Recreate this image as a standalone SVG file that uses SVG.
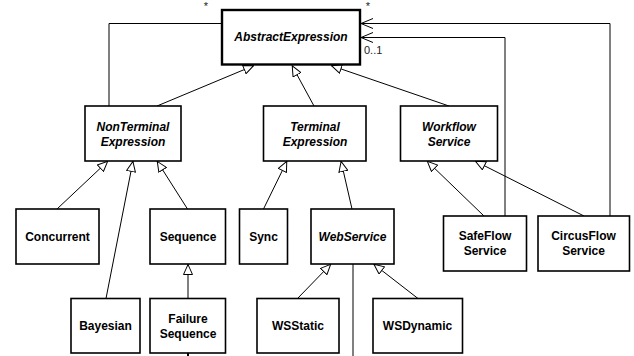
<svg xmlns="http://www.w3.org/2000/svg" width="634" height="356" viewBox="0 0 634 356">
<style>
.box{fill:#fff;stroke:#000;stroke-width:1.6}
.abs{fill:#fff;stroke:#000;stroke-width:2.4}
.t{font-family:"Liberation Sans",Arial,sans-serif;font-size:12px;font-weight:bold;text-anchor:middle;fill:#000}
.i{font-style:italic}
.c{fill:none;stroke:#000;stroke-width:1}
.gen{marker-end:url(#tri)}
.nav{marker-end:url(#open)}
.lbl{font-family:"Liberation Sans",Arial,sans-serif;font-size:11px;fill:#222}
</style>
<defs>
<marker id="tri" viewBox="0 0 11 10" refX="11" refY="5" markerWidth="11" markerHeight="10" markerUnits="userSpaceOnUse" orient="auto">
<path d="M0.5,0.5 L10.5,5 L0.5,9.5 Z" fill="#fff" stroke="#000" stroke-width="1"/>
</marker>
<marker id="open" viewBox="0 0 13 11" refX="12.5" refY="5.5" markerWidth="13" markerHeight="11" markerUnits="userSpaceOnUse" orient="auto">
<path d="M0.5,0.5 L12.5,5.5 L0.5,10.5" fill="none" stroke="#000" stroke-width="1"/>
</marker>
</defs>
<g id="connectors">
<path class="c" d="M109,106 V23.5 H222"/>
<path class="c nav" d="M505,216 V37.5 H361"/>
<path class="c nav" d="M610,216 V23.5 H361"/>
<path class="c gen" d="M157,106 L254,65.5"/>
<path class="c gen" d="M314,106 L292,65.5"/>
<path class="c gen" d="M449,106 L331,65.5"/>
<path class="c gen" d="M57,209 L108,161"/>
<path class="c gen" d="M106,298.5 L133,161"/>
<path class="c gen" d="M187.5,209 L157,161"/>
<path class="c gen" d="M188,298.5 L188,264"/>
<path class="c gen" d="M263.5,209 L287,161"/>
<path class="c gen" d="M352,209 L341,161"/>
<path class="c gen" d="M297.5,298.5 L331,264"/>
<path class="c gen" d="M418,298.5 L373.5,264"/>
<path class="c gen" d="M484,216 L427,161"/>
<path class="c gen" d="M584,216 L475,161"/>
<path class="c" d="M353,264 V356"/>
<path d="M188,353 V356" stroke="#000" stroke-width="2" fill="none"/>
<text class="lbl" x="206" y="10" text-anchor="middle">*</text>
<text class="lbl" x="368" y="10" text-anchor="middle">*</text>
<text class="lbl" x="364" y="54">0..1</text>
</g>
<g id="AbstractExpression"><rect class="abs" x="222" y="10" width="138" height="54.5"/><text class="t i" x="291" y="41">AbstractExpression</text></g>
<g id="NonTerminalExpression"><rect class="box" x="85" y="106" width="96" height="55"/><text class="t i" x="133" y="130.5">NonTerminal</text><text class="t i" x="133" y="145.5">Expression</text></g>
<g id="TerminalExpression"><rect class="box" x="263.5" y="106" width="102.5" height="55"/><text class="t i" x="315" y="130.5">Terminal</text><text class="t i" x="315" y="145.5">Expression</text></g>
<g id="WorkflowService"><rect class="box" x="400.5" y="106" width="97" height="55"/><text class="t i" x="449" y="130.5">Workflow</text><text class="t i" x="449" y="145.5">Service</text></g>
<g id="Concurrent"><rect class="box" x="16" y="209" width="83" height="55"/><text class="t" x="57.5" y="240.5">Concurrent</text></g>
<g id="Sequence"><rect class="box" x="150" y="209" width="75.5" height="55"/><text class="t" x="188" y="240.5">Sequence</text></g>
<g id="Sync"><rect class="box" x="239.5" y="209" width="48" height="55"/><text class="t" x="263.5" y="240.5">Sync</text></g>
<g id="WebService"><rect class="box" x="311" y="209" width="83" height="55"/><text class="t i" x="352.5" y="240.5">WebService</text></g>
<g id="SafeFlowService"><rect class="box" x="443.5" y="216" width="83" height="55"/><text class="t" x="485" y="240">SafeFlow</text><text class="t" x="485" y="255">Service</text></g>
<g id="CircusFlowService"><rect class="box" x="538" y="216" width="91.5" height="55"/><text class="t" x="583.5" y="240">CircusFlow</text><text class="t" x="583.5" y="255">Service</text></g>
<g id="Bayesian"><rect class="box" x="71" y="298.5" width="69" height="54.5"/><text class="t" x="105.5" y="330">Bayesian</text></g>
<g id="FailureSequence"><rect class="box" x="150" y="298.5" width="75.5" height="54.5"/><text class="t" x="188" y="323">Failure</text><text class="t" x="188" y="337.5">Sequence</text></g>
<g id="WSStatic"><rect class="box" x="257" y="298.5" width="82" height="54.5"/><text class="t" x="298" y="330">WSStatic</text></g>
<g id="WSDynamic"><rect class="box" x="373" y="298.5" width="89.5" height="54.5"/><text class="t" x="417.5" y="330">WSDynamic</text></g>
</svg>
